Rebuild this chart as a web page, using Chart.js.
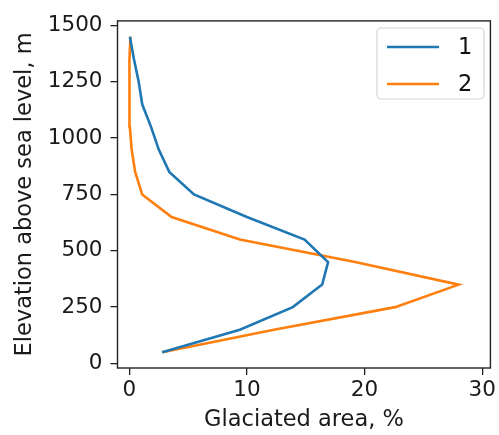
<!DOCTYPE html>
<html>
<head>
<meta charset="utf-8">
<script src="https://cdn.jsdelivr.net/npm/chart.js@4.4.0/dist/chart.umd.min.js"></script>
<style>
  body { margin: 0; background: #fff; }
  #wrap { width: 499px; height: 435px; }
</style>
</head>
<body>
<div id="wrap"><canvas id="myChartGlacier"></canvas></div>
<script>
// elevation bands (m) and glaciated area (%) per band
var elevation = [50, 150, 250, 350, 450, 550, 650, 750, 850, 950, 1050, 1150, 1250, 1350, 1450];
var area_1 = [2.8, 9.4, 13.9, 16.4, 16.9, 14.9, 10.0, 5.5, 3.4, 2.5, 1.85, 1.1, 0.8, 0.4, 0.05];
var area_2 = [2.8, 12.3, 22.6, 28.0, 19.2, 9.4, 3.6, 1.1, 0.5, 0.2, 0.05, 0.0, 0.0, 0.05, 0.1];
var seriesLabels = ['1', '2'];
var xTicks = [0, 10, 20, 30];
var yTicks = [0, 250, 500, 750, 1000, 1250, 1500];

function toPoints(vals) {
    return vals.map(function (v, i) { return { x: v, y: elevation[i] }; });
}

Chart.defaults.font.family = 'DejaVu Sans';
Chart.defaults.font.size = 21.5;
Chart.defaults.color = '#1a1a1a';

// frame round the plot + matplotlib-like legend box
const frameAndLegend = {
    id: 'frameAndLegend',
    afterDraw(chart) {
        const c = chart.ctx, a = chart.chartArea;
        c.save();
        c.strokeStyle = '#222';
        c.lineWidth = 1.4;
        c.strokeRect(a.left, a.top, a.right - a.left, a.bottom - a.top);

        const bx = 377, by = 28, bw = 107, bh = 71, r = 4;
        c.beginPath();
        c.moveTo(bx + r, by);
        c.arcTo(bx + bw, by, bx + bw, by + bh, r);
        c.arcTo(bx + bw, by + bh, bx, by + bh, r);
        c.arcTo(bx, by + bh, bx, by, r);
        c.arcTo(bx, by, bx + bw, by, r);
        c.closePath();
        c.fillStyle = 'rgba(255,255,255,0.8)';
        c.fill();
        c.strokeStyle = '#d6d6d6';
        c.lineWidth = 1.2;
        c.stroke();

        c.font = '22.5px "DejaVu Sans"';
        c.textBaseline = 'middle';
        chart.data.datasets.forEach(function (ds, i) {
            const y = 47 + i * 37;
            c.strokeStyle = ds.borderColor;
            c.lineWidth = 2.6;
            c.beginPath();
            c.moveTo(387, y);
            c.lineTo(439, y);
            c.stroke();
            c.fillStyle = '#111';
            c.fillText(ds.label, 458, y + 1);
        });
        c.restore();
    }
};

const ctx = document.getElementById('myChartGlacier');

new Chart(ctx, {
    type: 'scatter',
    data: {
        datasets: [
            {
                label: seriesLabels[0],
                data: toPoints(area_1),
                borderColor: '#1f77b4',
                backgroundColor: '#1f77b4',
                showLine: true,
                borderWidth: 2.6,
                pointRadius: 0,
                tension: 0
            },
            {
                label: seriesLabels[1],
                data: toPoints(area_2),
                borderColor: '#ff7f0e',
                backgroundColor: '#ff7f0e',
                showLine: true,
                borderWidth: 2.6,
                pointRadius: 0,
                tension: 0
            }
        ]
    },
    options: {
        responsive: true,
        maintainAspectRatio: false,
        animation: false,
        layout: { padding: { left: 0, top: 15, right: 6, bottom: 0 } },
        plugins: {
            legend: { display: false },
            tooltip: { enabled: false }
        },
        scales: {
            x: {
                type: 'linear',
                min: -1,
                max: 30.7,
                afterBuildTicks: function (s) { s.ticks = xTicks.map(function (v) { return { value: v }; }); },
                afterFit: function (s) { s.height = 67; },
                grid: { drawOnChartArea: false, drawTicks: true, tickLength: 7, color: '#222', lineWidth: 1.3 },
                border: { display: false },
                ticks: { padding: 3, maxRotation: 0, callback: function (v) { return String(v); } },
                title: { display: true, text: 'Glaciated area, %', font: { size: 22.5 }, padding: { top: 0, bottom: 1 } }
            },
            y: {
                type: 'linear',
                min: -20,
                max: 1520,
                afterBuildTicks: function (s) { s.ticks = yTicks.map(function (v) { return { value: v }; }); },
                afterFit: function (s) { s.width = 117.5; },
                grid: { drawOnChartArea: false, drawTicks: true, tickLength: 7, color: '#222', lineWidth: 1.3 },
                border: { display: false },
                ticks: { padding: 8, callback: function (v) { return String(v); } },
                title: { display: true, text: 'Elevation above sea level, m', font: { size: 22.5 }, padding: { top: 12, bottom: 0 } }
            }
        }
    },
    plugins: [frameAndLegend]
});
</script>
</body>
</html>
